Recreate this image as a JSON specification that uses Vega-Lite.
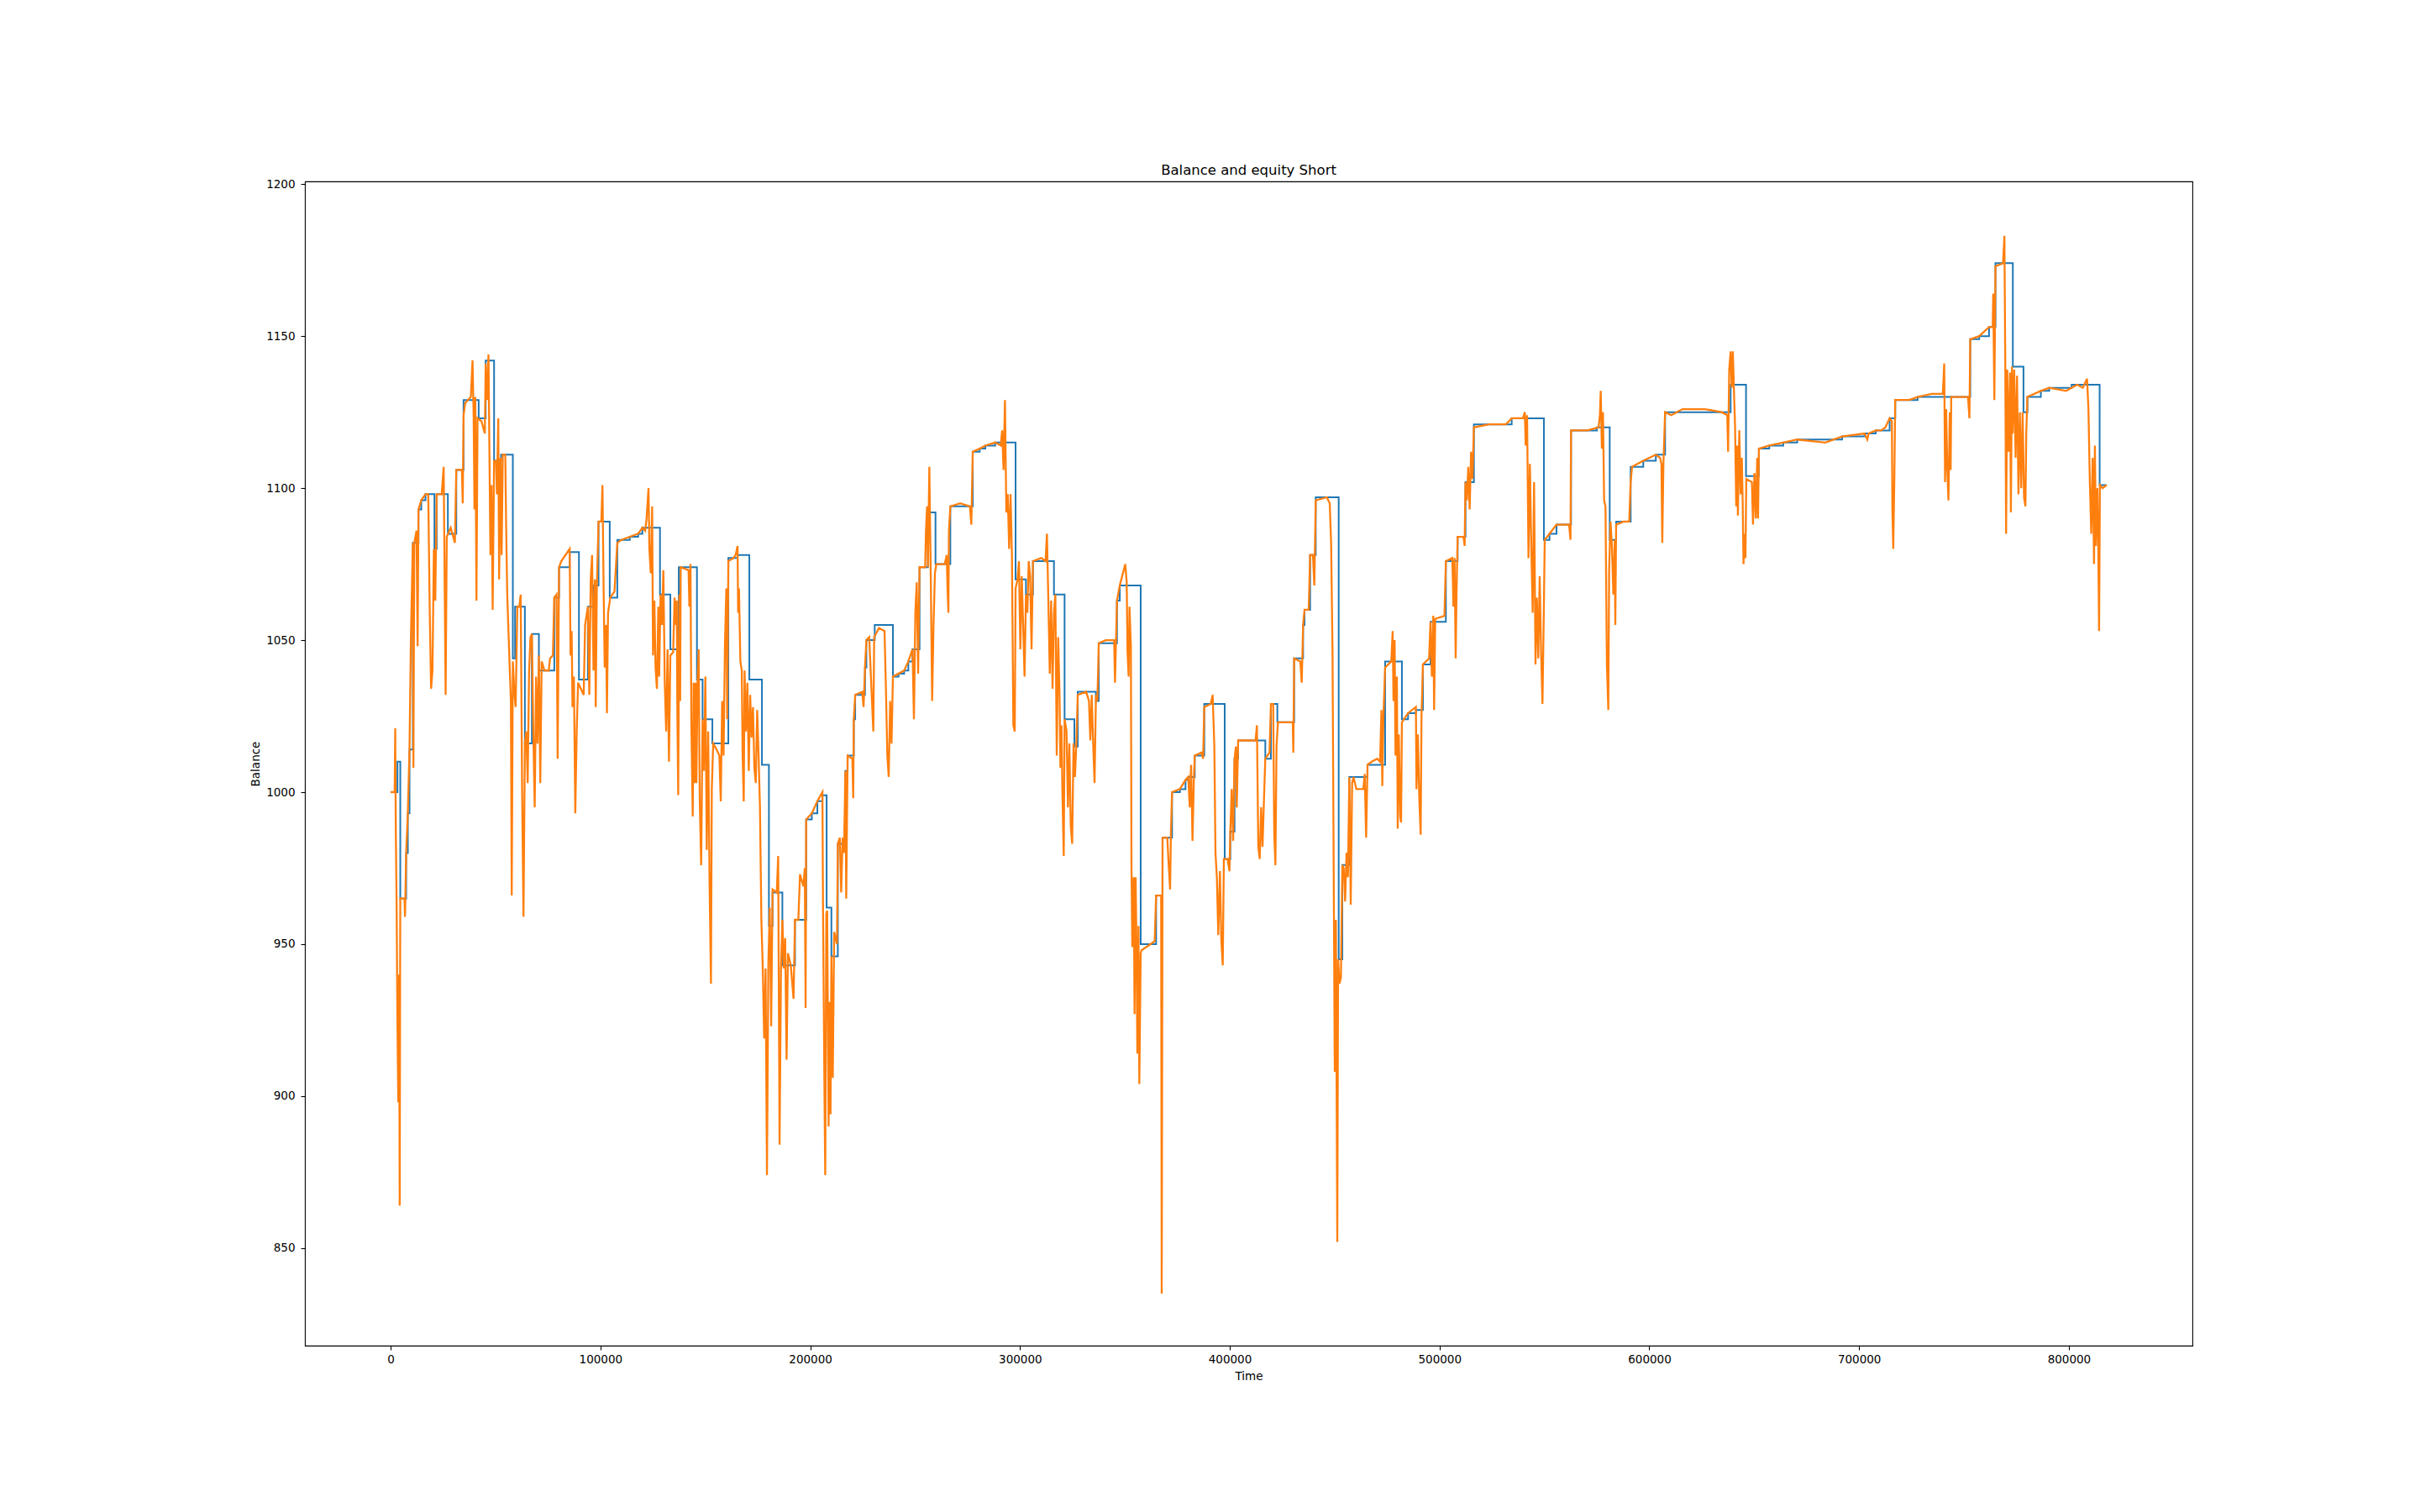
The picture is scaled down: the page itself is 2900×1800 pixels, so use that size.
{
  "$schema": "https://vega.github.io/schema/vega-lite/v6.json",
  "width": 2247,
  "height": 1386,
  "autosize": {"type": "none"},
  "padding": {"left": 363, "top": 216, "right": 290, "bottom": 198},
  "background": "white",
  "title": {"text": "Balance and equity Short", "font": "DejaVu Sans", "fontSize": 16.5, "fontWeight": "normal", "color": "black", "offset": 1, "anchor": "middle"},
  "datasets": {
    "balance": [
      {"t": 0, "v": 1000}, {"t": 3220, "v": 1010}, {"t": 4560, "v": 965}, {"t": 7360, "v": 980}, {"t": 8160, "v": 993}, {"t": 8960, "v": 1014}, {"t": 10560, "v": 1082},
      {"t": 13230, "v": 1093}, {"t": 14570, "v": 1096}, {"t": 16570, "v": 1098}, {"t": 20840, "v": 1080}, {"t": 21910, "v": 1098},
      {"t": 27250, "v": 1085}, {"t": 31260, "v": 1106}, {"t": 34730, "v": 1129}, {"t": 41930, "v": 1123}, {"t": 45270, "v": 1142},
      {"t": 49280, "v": 1109}, {"t": 52620, "v": 1111}, {"t": 58220, "v": 1044}, {"t": 59290, "v": 1061}, {"t": 63960, "v": 1016},
      {"t": 67300, "v": 1052}, {"t": 70640, "v": 1040}, {"t": 77980, "v": 1064}, {"t": 80250, "v": 1074}, {"t": 85320, "v": 1079},
      {"t": 89730, "v": 1037}, {"t": 94000, "v": 1061}, {"t": 96670, "v": 1068}, {"t": 99070, "v": 1089}, {"t": 104410, "v": 1064},
      {"t": 108020, "v": 1083}, {"t": 113960, "v": 1084}, {"t": 117960, "v": 1085}, {"t": 119960, "v": 1087}, {"t": 128370, "v": 1065},
      {"t": 133310, "v": 1047}, {"t": 137320, "v": 1074},
      {"t": 145990, "v": 1037}, {"t": 148670, "v": 1024}, {"t": 153340, "v": 1016}, {"t": 160950, "v": 1077}, {"t": 165350, "v": 1078}, {"t": 170960, "v": 1037},
      {"t": 176970, "v": 1009}, {"t": 180300, "v": 956}, {"t": 182040, "v": 967}, {"t": 186710, "v": 943}, {"t": 192720, "v": 958}, {"t": 198060, "v": 991},
      {"t": 200730, "v": 993}, {"t": 203400, "v": 997}, {"t": 205800, "v": 999}, {"t": 207810, "v": 962}, {"t": 210080, "v": 946}, {"t": 213150, "v": 983}, {"t": 216750, "v": 1007},
      {"t": 217820, "v": 1012}, {"t": 220760, "v": 1024}, {"t": 221420, "v": 1032}, {"t": 226100, "v": 1041}, {"t": 226760, "v": 1050},
      {"t": 230740, "v": 1055}, {"t": 239420, "v": 1038}, {"t": 242090, "v": 1039}, {"t": 244760, "v": 1040}, {"t": 246760, "v": 1043},
      {"t": 248760, "v": 1047}, {"t": 252100, "v": 1074}, {"t": 256100, "v": 1092},
      {"t": 259710, "v": 1075}, {"t": 266780, "v": 1094}, {"t": 277460, "v": 1112}, {"t": 280800, "v": 1113}, {"t": 283470, "v": 1114},
      {"t": 288140, "v": 1115}, {"t": 297890, "v": 1070},
      {"t": 302830, "v": 1065}, {"t": 306170, "v": 1076}, {"t": 316180, "v": 1065}, {"t": 321250, "v": 1024}, {"t": 325920, "v": 1015},
      {"t": 327530, "v": 1033}, {"t": 336200, "v": 1030}, {"t": 337540, "v": 1049}, {"t": 346220, "v": 1063}, {"t": 347550, "v": 1068},
      {"t": 357530, "v": 950}, {"t": 364880, "v": 966}, {"t": 367950, "v": 985}, {"t": 372480, "v": 1000}, {"t": 376220, "v": 1001},
      {"t": 378890, "v": 1004}, {"t": 380230, "v": 1005}, {"t": 383300, "v": 1012},
      {"t": 387840, "v": 1029}, {"t": 397580, "v": 978}, {"t": 400250, "v": 987}, {"t": 402260, "v": 1011}, {"t": 403990, "v": 1017},
      {"t": 416940, "v": 1011}, {"t": 419610, "v": 1029}, {"t": 422680, "v": 1023}, {"t": 430690, "v": 1044}, {"t": 434960, "v": 1055},
      {"t": 435630, "v": 1060}, {"t": 438300, "v": 1078}, {"t": 440970, "v": 1097}, {"t": 451920, "v": 945}, {"t": 453650, "v": 976},
      {"t": 456990, "v": 1005}, {"t": 465670, "v": 1009}, {"t": 474050, "v": 1043}, {"t": 482060, "v": 1024}, {"t": 484990, "v": 1026}, {"t": 488730, "v": 1027},
      {"t": 492070, "v": 1042}, {"t": 495680, "v": 1056}, {"t": 503020, "v": 1076}, {"t": 508620, "v": 1084}, {"t": 512360, "v": 1102},
      {"t": 516370, "v": 1121}, {"t": 534390, "v": 1123}, {"t": 549740, "v": 1083}, {"t": 552410, "v": 1085}, {"t": 555750, "v": 1088}, {"t": 562690, "v": 1119},
      {"t": 575000, "v": 1120}, {"t": 581120, "v": 1083}, {"t": 584190, "v": 1089}, {"t": 591100, "v": 1107}, {"t": 597110, "v": 1109}, {"t": 603110, "v": 1111},
      {"t": 607520, "v": 1125}, {"t": 638760, "v": 1134}, {"t": 646100, "v": 1104}, {"t": 652240, "v": 1113}, {"t": 657180, "v": 1114}, {"t": 663860, "v": 1115},
      {"t": 670530, "v": 1116}, {"t": 691890, "v": 1117}, {"t": 702570, "v": 1118}, {"t": 707910, "v": 1119}, {"t": 714560, "v": 1123}, {"t": 717230, "v": 1129},
      {"t": 727900, "v": 1130}, {"t": 753000, "v": 1149}, {"t": 757280, "v": 1150}, {"t": 761950, "v": 1153}, {"t": 765020, "v": 1174}, {"t": 773300, "v": 1140},
      {"t": 778370, "v": 1125}, {"t": 780240, "v": 1130}, {"t": 786650, "v": 1132}, {"t": 790650, "v": 1133}, {"t": 801330, "v": 1134}, {"t": 814680, "v": 1101},
      {"t": 818020, "v": 1101}
    ],
    "equity": [
      {"t": 0, "v": 1000}, {"t": 1885, "v": 1000}, {"t": 2150, "v": 1021}, {"t": 2420, "v": 988}, {"t": 2820, "v": 962},
      {"t": 3220, "v": 923}, {"t": 3620, "v": 898}, {"t": 4020, "v": 940}, {"t": 4290, "v": 864}, {"t": 4560, "v": 965},
      {"t": 5620, "v": 965}, {"t": 6560, "v": 965}, {"t": 6820, "v": 959}, {"t": 7360, "v": 980}, {"t": 8160, "v": 993},
      {"t": 8960, "v": 1014}, {"t": 9630, "v": 1051}, {"t": 10560, "v": 1082}, {"t": 10830, "v": 1008}, {"t": 11230, "v": 1082},
      {"t": 12300, "v": 1086}, {"t": 12830, "v": 1048}, {"t": 13230, "v": 1093}, {"t": 14570, "v": 1096}, {"t": 16570, "v": 1098},
      {"t": 17900, "v": 1098}, {"t": 18570, "v": 1061}, {"t": 19240, "v": 1034}, {"t": 19910, "v": 1040}, {"t": 20580, "v": 1080},
      {"t": 21240, "v": 1063}, {"t": 21910, "v": 1098}, {"t": 24310, "v": 1098}, {"t": 25250, "v": 1107}, {"t": 25650, "v": 1074},
      {"t": 26180, "v": 1032}, {"t": 26720, "v": 1084}, {"t": 28590, "v": 1087}, {"t": 30590, "v": 1082}, {"t": 31260, "v": 1106},
      {"t": 33930, "v": 1106}, {"t": 34330, "v": 1095}, {"t": 34730, "v": 1124}, {"t": 35530, "v": 1128}, {"t": 38200, "v": 1130},
      {"t": 39000, "v": 1142}, {"t": 39530, "v": 1124}, {"t": 39930, "v": 1093}, {"t": 40330, "v": 1130}, {"t": 40870, "v": 1063},
      {"t": 41400, "v": 1123}, {"t": 43270, "v": 1122}, {"t": 44870, "v": 1118}, {"t": 45270, "v": 1141}, {"t": 45940, "v": 1129},
      {"t": 46610, "v": 1144}, {"t": 47010, "v": 1115}, {"t": 47540, "v": 1078}, {"t": 48080, "v": 1101}, {"t": 48610, "v": 1060},
      {"t": 49280, "v": 1109}, {"t": 50210, "v": 1109}, {"t": 50610, "v": 1098}, {"t": 51280, "v": 1123}, {"t": 51680, "v": 1070},
      {"t": 52350, "v": 1110}, {"t": 52880, "v": 1078}, {"t": 53420, "v": 1111}, {"t": 54620, "v": 1111}, {"t": 55020, "v": 1088},
      {"t": 55550, "v": 1065}, {"t": 56620, "v": 1043}, {"t": 57290, "v": 1030}, {"t": 57690, "v": 966}, {"t": 58220, "v": 1043},
      {"t": 59020, "v": 1032}, {"t": 59560, "v": 1028}, {"t": 60360, "v": 1061}, {"t": 61290, "v": 1061}, {"t": 61960, "v": 1065},
      {"t": 62630, "v": 1001}, {"t": 63300, "v": 959}, {"t": 63960, "v": 1016}, {"t": 64630, "v": 1020}, {"t": 65300, "v": 1003},
      {"t": 65970, "v": 1040}, {"t": 66630, "v": 1051}, {"t": 67300, "v": 1052}, {"t": 67970, "v": 1020}, {"t": 68640, "v": 995},
      {"t": 69300, "v": 1038}, {"t": 69970, "v": 1016}, {"t": 70640, "v": 1045}, {"t": 71300, "v": 1003}, {"t": 71970, "v": 1043},
      {"t": 73310, "v": 1040}, {"t": 75310, "v": 1040}, {"t": 75980, "v": 1044}, {"t": 77310, "v": 1045}, {"t": 77980, "v": 1064},
      {"t": 79050, "v": 1065}, {"t": 79580, "v": 1011}, {"t": 80250, "v": 1074}, {"t": 81320, "v": 1076}, {"t": 83320, "v": 1078},
      {"t": 85320, "v": 1080}, {"t": 85720, "v": 1045}, {"t": 86260, "v": 1053}, {"t": 86660, "v": 1028}, {"t": 87330, "v": 1038},
      {"t": 87990, "v": 993}, {"t": 88660, "v": 1020}, {"t": 89330, "v": 1036}, {"t": 90660, "v": 1034}, {"t": 91990, "v": 1032},
      {"t": 92670, "v": 1055}, {"t": 94000, "v": 1061}, {"t": 94670, "v": 1032}, {"t": 95340, "v": 1070}, {"t": 96000, "v": 1078},
      {"t": 96670, "v": 1040}, {"t": 97340, "v": 1070}, {"t": 97740, "v": 1028}, {"t": 98270, "v": 1068}, {"t": 99070, "v": 1089},
      {"t": 100410, "v": 1089}, {"t": 100940, "v": 1101}, {"t": 101480, "v": 1068}, {"t": 102010, "v": 1041}, {"t": 102680, "v": 1055},
      {"t": 103080, "v": 1026}, {"t": 103610, "v": 1059}, {"t": 104680, "v": 1064}, {"t": 106680, "v": 1066}, {"t": 108020, "v": 1082},
      {"t": 109950, "v": 1083}, {"t": 113960, "v": 1084}, {"t": 117960, "v": 1085}, {"t": 119960, "v": 1087}, {"t": 121300, "v": 1086},
      {"t": 121970, "v": 1090}, {"t": 122900, "v": 1100}, {"t": 123300, "v": 1080}, {"t": 123970, "v": 1072}, {"t": 124640, "v": 1094},
      {"t": 125040, "v": 1045}, {"t": 125700, "v": 1063}, {"t": 126240, "v": 1041}, {"t": 126900, "v": 1034}, {"t": 127570, "v": 1061},
      {"t": 127970, "v": 1038}, {"t": 128640, "v": 1065}, {"t": 129310, "v": 1055}, {"t": 129980, "v": 1073}, {"t": 130640, "v": 1036},
      {"t": 131310, "v": 1020}, {"t": 131980, "v": 1047}, {"t": 132650, "v": 1010}, {"t": 133310, "v": 1045}, {"t": 134650, "v": 1046},
      {"t": 135320, "v": 1064}, {"t": 135980, "v": 1055}, {"t": 136380, "v": 1063}, {"t": 136650, "v": 1026}, {"t": 137050, "v": 999},
      {"t": 137580, "v": 1065}, {"t": 137990, "v": 1030}, {"t": 138250, "v": 1074}, {"t": 141990, "v": 1073}, {"t": 142390, "v": 1061},
      {"t": 142920, "v": 1075}, {"t": 143330, "v": 1022}, {"t": 143990, "v": 992}, {"t": 144390, "v": 1036}, {"t": 144930, "v": 1003},
      {"t": 145330, "v": 1036}, {"t": 145730, "v": 1003}, {"t": 146260, "v": 1036}, {"t": 146800, "v": 1047}, {"t": 147330, "v": 997},
      {"t": 148000, "v": 976}, {"t": 148670, "v": 1024}, {"t": 149330, "v": 1007}, {"t": 150000, "v": 1038}, {"t": 150670, "v": 981},
      {"t": 151340, "v": 1020}, {"t": 152000, "v": 970}, {"t": 152670, "v": 937}, {"t": 153070, "v": 1001}, {"t": 153740, "v": 1016},
      {"t": 155340, "v": 1014}, {"t": 156680, "v": 1012}, {"t": 157340, "v": 997}, {"t": 158010, "v": 1030}, {"t": 158680, "v": 1012},
      {"t": 159350, "v": 1049}, {"t": 160010, "v": 1067}, {"t": 160410, "v": 1024}, {"t": 160950, "v": 1076}, {"t": 163350, "v": 1077},
      {"t": 164420, "v": 1078}, {"t": 165350, "v": 1081}, {"t": 165620, "v": 1059}, {"t": 166020, "v": 1067}, {"t": 166690, "v": 1043},
      {"t": 167360, "v": 1040}, {"t": 167760, "v": 1012}, {"t": 168290, "v": 997}, {"t": 168690, "v": 1040}, {"t": 169360, "v": 1020},
      {"t": 170030, "v": 1036}, {"t": 170690, "v": 1007}, {"t": 171360, "v": 1032}, {"t": 172030, "v": 1018}, {"t": 172700, "v": 1028},
      {"t": 173360, "v": 1008}, {"t": 174030, "v": 1003}, {"t": 174700, "v": 1027}, {"t": 175370, "v": 1012}, {"t": 176030, "v": 995},
      {"t": 176700, "v": 958}, {"t": 177370, "v": 942}, {"t": 178040, "v": 919}, {"t": 178700, "v": 942}, {"t": 179370, "v": 874},
      {"t": 180040, "v": 944}, {"t": 180710, "v": 962}, {"t": 181370, "v": 923}, {"t": 182040, "v": 968}, {"t": 184040, "v": 967},
      {"t": 184710, "v": 979}, {"t": 185380, "v": 884}, {"t": 186050, "v": 942}, {"t": 186710, "v": 958}, {"t": 187380, "v": 942},
      {"t": 188050, "v": 952}, {"t": 188720, "v": 912}, {"t": 189380, "v": 947}, {"t": 190720, "v": 943}, {"t": 192050, "v": 932},
      {"t": 192720, "v": 958}, {"t": 194320, "v": 958}, {"t": 195120, "v": 973}, {"t": 196730, "v": 969}, {"t": 197390, "v": 975},
      {"t": 197790, "v": 929}, {"t": 198060, "v": 991}, {"t": 200730, "v": 993}, {"t": 203400, "v": 997}, {"t": 205800, "v": 1000},
      {"t": 206070, "v": 964}, {"t": 206740, "v": 904}, {"t": 207140, "v": 874}, {"t": 207670, "v": 960}, {"t": 208070, "v": 961},
      {"t": 208740, "v": 890}, {"t": 209140, "v": 931}, {"t": 209670, "v": 894}, {"t": 210080, "v": 946}, {"t": 210740, "v": 906},
      {"t": 211410, "v": 954}, {"t": 212750, "v": 950}, {"t": 213150, "v": 983}, {"t": 214080, "v": 985}, {"t": 214750, "v": 967},
      {"t": 215420, "v": 985}, {"t": 216080, "v": 980}, {"t": 216750, "v": 1007}, {"t": 217150, "v": 965}, {"t": 217820, "v": 1012},
      {"t": 220090, "v": 1011}, {"t": 220490, "v": 998}, {"t": 220760, "v": 1024}, {"t": 221420, "v": 1032}, {"t": 224760, "v": 1033},
      {"t": 225430, "v": 1028}, {"t": 226100, "v": 1041}, {"t": 226760, "v": 1050}, {"t": 228100, "v": 1051}, {"t": 230070, "v": 1020},
      {"t": 230470, "v": 1051}, {"t": 232740, "v": 1054}, {"t": 235410, "v": 1053}, {"t": 236080, "v": 1034}, {"t": 236750, "v": 1012},
      {"t": 237410, "v": 1005}, {"t": 238080, "v": 1030}, {"t": 238750, "v": 1016}, {"t": 239420, "v": 1038}, {"t": 242090, "v": 1039},
      {"t": 244760, "v": 1040}, {"t": 246760, "v": 1043}, {"t": 248760, "v": 1047}, {"t": 249430, "v": 1024}, {"t": 250100, "v": 1059},
      {"t": 250760, "v": 1069}, {"t": 251430, "v": 1039}, {"t": 252100, "v": 1074}, {"t": 254770, "v": 1074}, {"t": 255170, "v": 1086},
      {"t": 255700, "v": 1094}, {"t": 256100, "v": 1074}, {"t": 256770, "v": 1107}, {"t": 257440, "v": 1072}, {"t": 258110, "v": 1030},
      {"t": 258770, "v": 1055}, {"t": 259440, "v": 1072}, {"t": 260110, "v": 1075}, {"t": 264110, "v": 1075}, {"t": 265050, "v": 1078},
      {"t": 265450, "v": 1067}, {"t": 265850, "v": 1059}, {"t": 266120, "v": 1086}, {"t": 266780, "v": 1094}, {"t": 271460, "v": 1095},
      {"t": 276130, "v": 1094}, {"t": 276800, "v": 1088}, {"t": 277460, "v": 1112}, {"t": 280800, "v": 1113}, {"t": 283470, "v": 1114},
      {"t": 288140, "v": 1115}, {"t": 290810, "v": 1114}, {"t": 291480, "v": 1119}, {"t": 292150, "v": 1106}, {"t": 292820, "v": 1129},
      {"t": 293480, "v": 1092}, {"t": 294150, "v": 1098}, {"t": 294820, "v": 1080}, {"t": 295490, "v": 1098}, {"t": 296150, "v": 1078},
      {"t": 296820, "v": 1022}, {"t": 297490, "v": 1020}, {"t": 297890, "v": 1067}, {"t": 298820, "v": 1070}, {"t": 299490, "v": 1076},
      {"t": 300160, "v": 1047}, {"t": 300830, "v": 1071}, {"t": 301490, "v": 1055}, {"t": 302160, "v": 1038}, {"t": 302830, "v": 1065},
      {"t": 303500, "v": 1059}, {"t": 304160, "v": 1076}, {"t": 304830, "v": 1071}, {"t": 305500, "v": 1047}, {"t": 306170, "v": 1076},
      {"t": 310170, "v": 1077}, {"t": 312170, "v": 1076}, {"t": 312840, "v": 1085}, {"t": 313510, "v": 1063}, {"t": 314180, "v": 1039},
      {"t": 314840, "v": 1063}, {"t": 315510, "v": 1034}, {"t": 316180, "v": 1059}, {"t": 316850, "v": 1065}, {"t": 317510, "v": 1012},
      {"t": 318180, "v": 1051}, {"t": 318850, "v": 1032}, {"t": 319250, "v": 1008}, {"t": 319780, "v": 1022}, {"t": 320180, "v": 1001},
      {"t": 320850, "v": 979}, {"t": 321250, "v": 1024}, {"t": 322190, "v": 1020}, {"t": 322850, "v": 995}, {"t": 323520, "v": 1016},
      {"t": 324190, "v": 989}, {"t": 324860, "v": 983}, {"t": 325520, "v": 1016}, {"t": 326190, "v": 1005}, {"t": 326860, "v": 1016},
      {"t": 327530, "v": 1032}, {"t": 331530, "v": 1033}, {"t": 332870, "v": 1030}, {"t": 333530, "v": 1017}, {"t": 334200, "v": 1032},
      {"t": 334870, "v": 1016}, {"t": 335540, "v": 1003}, {"t": 336200, "v": 1032}, {"t": 336870, "v": 1030}, {"t": 337540, "v": 1049},
      {"t": 340880, "v": 1050}, {"t": 344880, "v": 1050}, {"t": 345280, "v": 1036}, {"t": 346220, "v": 1063}, {"t": 347550, "v": 1068},
      {"t": 350190, "v": 1075}, {"t": 350860, "v": 1069}, {"t": 351260, "v": 1046}, {"t": 351790, "v": 1038}, {"t": 352190, "v": 1061},
      {"t": 352860, "v": 1048}, {"t": 353130, "v": 976}, {"t": 353530, "v": 949}, {"t": 354200, "v": 972}, {"t": 354600, "v": 927},
      {"t": 355130, "v": 972}, {"t": 355530, "v": 949}, {"t": 355930, "v": 914}, {"t": 356470, "v": 956}, {"t": 356870, "v": 904},
      {"t": 357530, "v": 947}, {"t": 357930, "v": 948}, {"t": 362200, "v": 950}, {"t": 364210, "v": 951}, {"t": 364880, "v": 966},
      {"t": 367280, "v": 966}, {"t": 367550, "v": 835}, {"t": 367950, "v": 985}, {"t": 370210, "v": 985}, {"t": 370880, "v": 976},
      {"t": 371550, "v": 968}, {"t": 371950, "v": 987}, {"t": 372480, "v": 1000}, {"t": 376220, "v": 1001}, {"t": 378890, "v": 1004},
      {"t": 380230, "v": 1005}, {"t": 380900, "v": 995}, {"t": 381560, "v": 1009}, {"t": 382230, "v": 984}, {"t": 382900, "v": 1005},
      {"t": 383300, "v": 1012}, {"t": 386500, "v": 1013}, {"t": 387300, "v": 1011}, {"t": 387840, "v": 1028}, {"t": 390910, "v": 1029},
      {"t": 391840, "v": 1032}, {"t": 392640, "v": 1015}, {"t": 393180, "v": 980}, {"t": 393850, "v": 972}, {"t": 394510, "v": 953},
      {"t": 395310, "v": 974}, {"t": 395980, "v": 951}, {"t": 396650, "v": 943}, {"t": 397180, "v": 978}, {"t": 398920, "v": 978},
      {"t": 399850, "v": 974}, {"t": 400250, "v": 987}, {"t": 400920, "v": 1001}, {"t": 401590, "v": 984}, {"t": 402260, "v": 1011},
      {"t": 402920, "v": 1015}, {"t": 403320, "v": 995}, {"t": 403990, "v": 1017}, {"t": 408930, "v": 1017}, {"t": 412270, "v": 1017},
      {"t": 412940, "v": 1022}, {"t": 413600, "v": 982}, {"t": 414270, "v": 978}, {"t": 414940, "v": 995}, {"t": 415610, "v": 982},
      {"t": 416270, "v": 997}, {"t": 416940, "v": 1011}, {"t": 418940, "v": 1013}, {"t": 419610, "v": 1029}, {"t": 420680, "v": 1029},
      {"t": 421210, "v": 986}, {"t": 421750, "v": 976}, {"t": 422280, "v": 1015}, {"t": 422950, "v": 1023}, {"t": 430020, "v": 1023},
      {"t": 430290, "v": 1013}, {"t": 430690, "v": 1044}, {"t": 433630, "v": 1043}, {"t": 434300, "v": 1036}, {"t": 434960, "v": 1055},
      {"t": 435630, "v": 1060}, {"t": 437630, "v": 1060}, {"t": 438300, "v": 1078}, {"t": 439640, "v": 1078}, {"t": 440300, "v": 1068},
      {"t": 440970, "v": 1096}, {"t": 446310, "v": 1097}, {"t": 447650, "v": 1095}, {"t": 448310, "v": 1082}, {"t": 448980, "v": 1046},
      {"t": 449650, "v": 960}, {"t": 450050, "v": 908}, {"t": 450580, "v": 958}, {"t": 451250, "v": 852}, {"t": 451650, "v": 945},
      {"t": 452320, "v": 937}, {"t": 452990, "v": 939}, {"t": 453650, "v": 976}, {"t": 454320, "v": 975}, {"t": 454990, "v": 964},
      {"t": 455650, "v": 980}, {"t": 456320, "v": 972}, {"t": 456990, "v": 1005}, {"t": 457660, "v": 963}, {"t": 458330, "v": 1003},
      {"t": 458990, "v": 1005}, {"t": 460330, "v": 1001}, {"t": 463670, "v": 1001}, {"t": 464330, "v": 1006}, {"t": 465000, "v": 985},
      {"t": 465670, "v": 1009}, {"t": 467670, "v": 1010}, {"t": 470310, "v": 1011}, {"t": 471640, "v": 1010}, {"t": 472310, "v": 1027},
      {"t": 472710, "v": 1002}, {"t": 473250, "v": 1025}, {"t": 474050, "v": 1041}, {"t": 476990, "v": 1043}, {"t": 477650, "v": 1053},
      {"t": 478050, "v": 1030}, {"t": 478590, "v": 1050}, {"t": 478990, "v": 1012}, {"t": 479660, "v": 1038}, {"t": 480060, "v": 988},
      {"t": 480590, "v": 1019}, {"t": 481260, "v": 992}, {"t": 481660, "v": 990}, {"t": 482060, "v": 1023}, {"t": 484990, "v": 1026},
      {"t": 488730, "v": 1028}, {"t": 489000, "v": 1001}, {"t": 489670, "v": 1019}, {"t": 490340, "v": 998}, {"t": 491000, "v": 986},
      {"t": 491400, "v": 1025}, {"t": 492070, "v": 1042}, {"t": 495010, "v": 1044}, {"t": 495680, "v": 1056}, {"t": 496340, "v": 1038},
      {"t": 497010, "v": 1058}, {"t": 497410, "v": 1027}, {"t": 497940, "v": 1057}, {"t": 502350, "v": 1058}, {"t": 503020, "v": 1076},
      {"t": 506090, "v": 1077}, {"t": 506620, "v": 1061}, {"t": 507160, "v": 1077}, {"t": 507690, "v": 1044}, {"t": 508090, "v": 1065},
      {"t": 508620, "v": 1084}, {"t": 511430, "v": 1084}, {"t": 511960, "v": 1081}, {"t": 512360, "v": 1102}, {"t": 513030, "v": 1096},
      {"t": 513700, "v": 1107}, {"t": 514360, "v": 1093}, {"t": 515030, "v": 1112}, {"t": 515700, "v": 1103}, {"t": 516370, "v": 1120},
      {"t": 523710, "v": 1121}, {"t": 531720, "v": 1121}, {"t": 534390, "v": 1123}, {"t": 539730, "v": 1123}, {"t": 540660, "v": 1125},
      {"t": 541060, "v": 1114}, {"t": 541730, "v": 1124}, {"t": 542400, "v": 1077}, {"t": 543070, "v": 1108}, {"t": 543730, "v": 1081},
      {"t": 544400, "v": 1059}, {"t": 545070, "v": 1102}, {"t": 545740, "v": 1042}, {"t": 546400, "v": 1064}, {"t": 547070, "v": 1044},
      {"t": 547740, "v": 1071}, {"t": 548410, "v": 1046}, {"t": 549070, "v": 1029}, {"t": 549740, "v": 1061}, {"t": 550140, "v": 1083},
      {"t": 552410, "v": 1085}, {"t": 555750, "v": 1088}, {"t": 561760, "v": 1088}, {"t": 562430, "v": 1083}, {"t": 562690, "v": 1119},
      {"t": 570430, "v": 1119}, {"t": 575780, "v": 1120}, {"t": 576440, "v": 1124}, {"t": 576840, "v": 1132}, {"t": 577380, "v": 1113},
      {"t": 577910, "v": 1125}, {"t": 578450, "v": 1096}, {"t": 579110, "v": 1094}, {"t": 579780, "v": 1042}, {"t": 580450, "v": 1027},
      {"t": 580850, "v": 1073}, {"t": 581520, "v": 1089}, {"t": 582180, "v": 1081}, {"t": 582850, "v": 1065}, {"t": 583520, "v": 1083},
      {"t": 583790, "v": 1055}, {"t": 584190, "v": 1088}, {"t": 587790, "v": 1089}, {"t": 590430, "v": 1089}, {"t": 591100, "v": 1102},
      {"t": 591770, "v": 1107}, {"t": 597110, "v": 1109}, {"t": 603110, "v": 1111}, {"t": 605120, "v": 1110}, {"t": 605780, "v": 1108},
      {"t": 606180, "v": 1082}, {"t": 606720, "v": 1108}, {"t": 607520, "v": 1125}, {"t": 610460, "v": 1124}, {"t": 615800, "v": 1126},
      {"t": 626480, "v": 1126}, {"t": 634490, "v": 1125}, {"t": 637160, "v": 1124}, {"t": 637560, "v": 1112}, {"t": 638090, "v": 1139},
      {"t": 638760, "v": 1145}, {"t": 639290, "v": 1133}, {"t": 639830, "v": 1145}, {"t": 640490, "v": 1129}, {"t": 640890, "v": 1120},
      {"t": 641430, "v": 1094}, {"t": 641830, "v": 1114}, {"t": 642230, "v": 1091}, {"t": 642900, "v": 1119}, {"t": 643560, "v": 1098},
      {"t": 644100, "v": 1110}, {"t": 644500, "v": 1096}, {"t": 644900, "v": 1075}, {"t": 645430, "v": 1085}, {"t": 645830, "v": 1077},
      {"t": 646230, "v": 1103}, {"t": 648900, "v": 1102}, {"t": 649440, "v": 1088}, {"t": 650110, "v": 1105}, {"t": 650770, "v": 1090},
      {"t": 651440, "v": 1110}, {"t": 651840, "v": 1090}, {"t": 652240, "v": 1113}, {"t": 657180, "v": 1114}, {"t": 663860, "v": 1115},
      {"t": 670530, "v": 1116}, {"t": 683880, "v": 1115}, {"t": 691890, "v": 1117}, {"t": 702570, "v": 1118}, {"t": 703910, "v": 1116},
      {"t": 704570, "v": 1118}, {"t": 707910, "v": 1119}, {"t": 710550, "v": 1119}, {"t": 712550, "v": 1120}, {"t": 714560, "v": 1123},
      {"t": 715620, "v": 1122}, {"t": 715890, "v": 1093}, {"t": 716290, "v": 1080}, {"t": 716820, "v": 1104}, {"t": 717230, "v": 1129},
      {"t": 723900, "v": 1129}, {"t": 727900, "v": 1130}, {"t": 734580, "v": 1131}, {"t": 739920, "v": 1131}, {"t": 740590, "v": 1141},
      {"t": 740990, "v": 1102}, {"t": 741520, "v": 1126}, {"t": 742060, "v": 1106}, {"t": 742590, "v": 1096}, {"t": 743260, "v": 1125},
      {"t": 743660, "v": 1106}, {"t": 743930, "v": 1130}, {"t": 751940, "v": 1130}, {"t": 752600, "v": 1123}, {"t": 753000, "v": 1149},
      {"t": 757280, "v": 1150}, {"t": 761950, "v": 1153}, {"t": 763680, "v": 1153}, {"t": 763950, "v": 1164}, {"t": 764480, "v": 1129},
      {"t": 765020, "v": 1173}, {"t": 768620, "v": 1174}, {"t": 769290, "v": 1183}, {"t": 769690, "v": 1141}, {"t": 770090, "v": 1085},
      {"t": 770630, "v": 1139}, {"t": 771290, "v": 1112}, {"t": 771960, "v": 1138}, {"t": 772360, "v": 1092}, {"t": 772890, "v": 1140},
      {"t": 773300, "v": 1118}, {"t": 773960, "v": 1139}, {"t": 774630, "v": 1110}, {"t": 775300, "v": 1137}, {"t": 775970, "v": 1098},
      {"t": 776630, "v": 1125}, {"t": 777300, "v": 1100}, {"t": 777970, "v": 1125}, {"t": 778640, "v": 1097}, {"t": 779300, "v": 1094},
      {"t": 779700, "v": 1118}, {"t": 780240, "v": 1130}, {"t": 786650, "v": 1132}, {"t": 790650, "v": 1133}, {"t": 798660, "v": 1132},
      {"t": 804000, "v": 1134}, {"t": 806670, "v": 1133}, {"t": 808670, "v": 1136}, {"t": 809340, "v": 1126}, {"t": 810010, "v": 1102},
      {"t": 810680, "v": 1085}, {"t": 811340, "v": 1110}, {"t": 812010, "v": 1075}, {"t": 812410, "v": 1114}, {"t": 812940, "v": 1081},
      {"t": 813610, "v": 1100}, {"t": 814010, "v": 1083}, {"t": 814410, "v": 1053}, {"t": 814810, "v": 1101}, {"t": 816020, "v": 1100},
      {"t": 818020, "v": 1101}
    ]
  },
  "encoding": {
    "x": {
      "field": "t",
      "type": "quantitative",
      "title": "Time",
      "scale": {"domain": [-40900, 858900], "nice": false, "zero": false},
      "axis": {"values": [0, 100000, 200000, 300000, 400000, 500000, 600000, 700000, 800000], "format": "d", "grid": false, "labelPadding": 4, "titlePadding": 7}
    },
    "y": {
      "field": "v",
      "type": "quantitative",
      "title": "Balance",
      "scale": {"domain": [817.9, 1200.9], "nice": false, "zero": false},
      "axis": {"values": [850, 900, 950, 1000, 1050, 1100, 1150, 1200], "format": "d", "grid": false, "labelPadding": 7, "titlePadding": 5}
    }
  },
  "layer": [
    {
      "data": {"name": "balance"},
      "mark": {"type": "line", "interpolate": "step-after", "color": "#1f77b4", "strokeWidth": 2, "clip": true}
    },
    {
      "data": {"name": "equity"},
      "mark": {"type": "line", "color": "#ff7f0e", "strokeWidth": 2.3, "clip": true}
    }
  ],
  "config": {
    "view": {"stroke": "black", "strokeWidth": 1.1},
    "axis": {
      "domain": false,
      "ticks": true,
      "tickColor": "black",
      "tickSize": 5,
      "tickWidth": 1.1,
      "labelFont": "DejaVu Sans",
      "labelFontSize": 13.5,
      "labelColor": "black",
      "titleFont": "DejaVu Sans",
      "titleFontSize": 13.5,
      "titleFontWeight": "normal",
      "titleColor": "black"
    }
  }
}
